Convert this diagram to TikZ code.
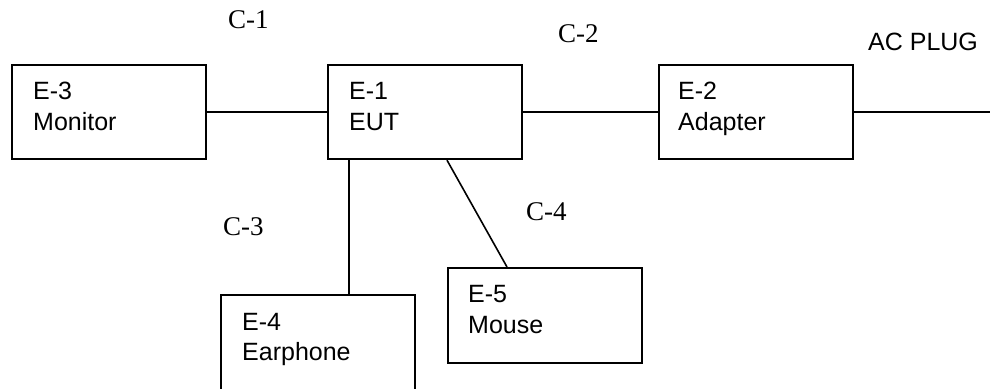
\documentclass[tikz,border=0pt]{standalone}
\usepackage{fontspec}
\setmainfont{Liberation Sans}
\newfontfamily\serifc{Liberation Serif}
\usetikzlibrary{calc}
\tikzset{
  box/.style={draw, line width=2.2pt, anchor=north west, minimum width=194pt, minimum height=94pt, inner sep=0pt},
  lbl/.style={anchor=base west, inner sep=0pt, font=\fontsize{25}{30}\selectfont},
  clbl/.style={anchor=base west, inner sep=0pt, font=\serifc\fontsize{27}{32}\selectfont},
  wire/.style={line width=1.6pt}
}
\begin{document}
\begin{tikzpicture}[x=1pt,y=-1pt]
\useasboundingbox (0,0) rectangle (990,388);
\clip (0,0) rectangle (990,388);
\fill[white] (0,0) rectangle (990,388);
% boxes
\node[box] (e3) at (11,64) {};
\node[box] (e1) at (327,64) {};
\node[box] (e2) at (658,64) {};
\node[box, minimum height=110pt] (e4) at (220,294) {};
\node[box, minimum height=95pt] (e5) at (447,267) {};
% box texts
\node[lbl] (e3a) at ($(e3.north west)+(22,35)$) {E-3};
\node[lbl] (e3b) at ($(e3a.base west)+(0,31)$) {Monitor};
\node[lbl] (e1a) at ($(e1.north west)+(22,35)$) {E-1};
\node[lbl] (e1b) at ($(e1a.base west)+(0,31)$) {EUT};
\node[lbl] (e2a) at ($(e2.north west)+(20,35)$) {E-2};
\node[lbl] (e2b) at ($(e2a.base west)+(0,31)$) {Adapter};
\node[lbl] (e4a) at ($(e4.north west)+(22,36)$) {E-4};
\node[lbl] (e4b) at ($(e4a.base west)+(0,30)$) {Earphone};
\node[lbl] (e5a) at ($(e5.north west)+(21,35)$) {E-5};
\node[lbl] (e5b) at ($(e5a.base west)+(0,31)$) {Mouse};
% cable labels
\node[clbl] (c1) at (228,28) {C-1};
\node[clbl] (c2) at (558,42) {C-2};
\node[clbl] (c3) at (223,235) {C-3};
\node[clbl] (c4) at (526,220) {C-4};
\node[lbl] (ac) at (868,50) {AC PLUG};
% connectors
\coordinate (plug) at (990,112);
\coordinate (v1) at ($(e1.south west)+(22,0)$);
\coordinate (d1) at ($(e1.south west)+(120,0)$);
\coordinate (d2) at ($(e5.north west)+(60,0)$);
\draw[wire] (e3.east |- 0,112) -- (e1.west |- 0,112);
\draw[wire] (e1.east |- 0,112) -- (e2.west |- 0,112);
\draw[wire] (e2.east |- plug) -- (plug);
\draw[wire] (v1) -- (v1 |- e4.north);
\draw[wire] (d1) -- (d2);
\end{tikzpicture}
\end{document}
